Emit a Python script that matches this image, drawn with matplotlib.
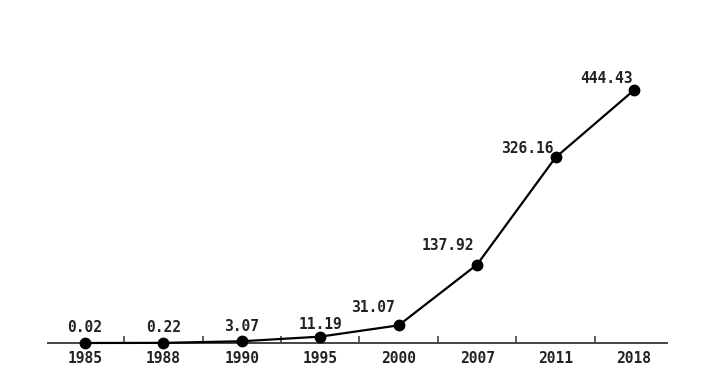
import matplotlib
matplotlib.use("Agg")
import matplotlib.pyplot as plt
import numpy as np

# data
years = ["1985", "1988", "1990", "1995", "2000", "2007", "2011", "2018"]
values = [0.02, 0.22, 3.07, 11.19, 31.07, 137.92, 326.16, 444.43]
labels = ["0.02", "0.22", "3.07", "11.19", "31.07", "137.92", "326.16", "444.43"]
# label offsets (pixels) relative to each point
offsets = [(0, 15), (0, 15), (0, 15), (0, 12), (-26, 18), (-29, 19), (-28, 9), (-28, 12)]

fig = plt.figure(figsize=(7.07, 3.80), dpi=100)
ax = fig.add_axes([48 / 707, 37 / 380, (667 - 48) / 707, (343 - 40) / 380])

x = np.arange(len(years))
ax.plot(x, values, color="black", linewidth=1.6, marker="o", markersize=7.5,
        markerfacecolor="black", markeredgecolor="black", zorder=3, clip_on=False)

for xi, v, lab, off in zip(x, values, labels, offsets):
    ax.annotate(lab, (xi, v), xytext=off, textcoords="offset pixels",
                ha="center", va="center", fontsize=10.5, fontweight="bold",
                family="DejaVu Sans Mono", color="#222222")

ax.set_xlim(-0.47, 7.42)
ax.set_ylim(0, 532.5)

for side in ("top", "right", "left"):
    ax.spines[side].set_visible(False)
ax.spines["bottom"].set_color("#444444")
ax.spines["bottom"].set_linewidth(1.4)

ax.set_yticks([])
ax.set_xticks(x)
ax.set_xticklabels(years, fontsize=10.5, fontweight="bold", family="DejaVu Sans Mono", color="#222222")
ax.tick_params(axis="x", which="major", length=0, pad=6)
ax.set_xticks(x[:-1] + 0.5, minor=True)
ax.tick_params(axis="x", which="minor", direction="in", length=5, width=1.2, color="#444444")

fig.savefig("out.png", dpi=100)
